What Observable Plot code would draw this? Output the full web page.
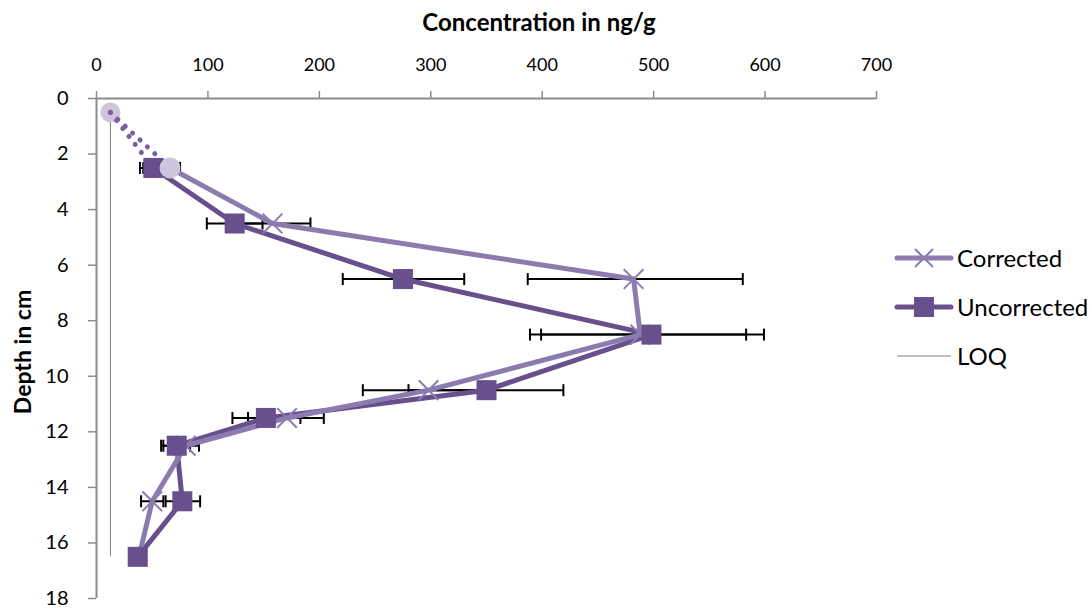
<!DOCTYPE html>
<html><head><meta charset="utf-8">
<script src="https://cdn.jsdelivr.net/npm/d3@7"></script>
<script src="https://cdn.jsdelivr.net/npm/@observablehq/plot@0.6"></script>
<style>
body{margin:0;background:#fff;font-family:Lato,"Open Sans",sans-serif;}
#wrap{position:relative;width:1092px;height:608px;overflow:hidden;background:#fff}
#chart{position:absolute;left:0;top:0}
#title{position:absolute;top:7px;left:539px;transform:translateX(-50%);font-weight:bold;font-size:24px;white-space:nowrap;color:#000}
#ylab{position:absolute;left:22px;top:352px;transform:translate(-50%,-50%) rotate(-90deg);font-weight:bold;font-size:23px;white-space:nowrap;color:#000}
#legend{position:absolute;left:893px;top:233px}
.item{display:flex;align-items:center;height:49px;font-size:24px;color:#000}
.item svg{margin-right:2px}
#chart g[aria-label="x-axis tick"], #chart g[aria-label="y-axis tick"]{stroke:#8c8c8c;stroke-width:1.5}
</style></head><body>
<div id="wrap"><div id="chart"></div><div id="title">Concentration in ng/g</div><div id="ylab">Depth in cm</div><div id="legend"></div></div>
<script>
// ---- data ----
const depth = [2.5, 4.5, 6.5, 8.5, 10.5, 11.5, 12.5, 14.5, 16.5];
const corrected = [66, 158, 482, 488, 298, 171, 80, 50, 38];
const correctedLow = [39, 124, 387, 389, 239, 136, 58, 40, null];
const correctedHigh = [75, 192, 580, 583, 357, 204, 92, 60, null];
const uncorrected = [51, 124, 275, 498, 350, 152, 72, 77, 37];
const uncorrectedLow = [42, 99, 221, 399, 280, 122, 60, 62, null];
const uncorrectedHigh = [60, 149, 330, 599, 419, 183, 84, 93, null];
const loqValue = 12.5;
const loqDepth = [0.5, 16.5];
const surfaceDepth = 0.5;
const xTicks = [0, 100, 200, 300, 400, 500, 600, 700];
const yTicks = [0, 2, 4, 6, 8, 10, 12, 14, 16, 18];
const seriesNames = ["Corrected", "Uncorrected", "LOQ"];

// ---- styles ----
const cCorr = "#8c7baf", cUnc = "#68508c", cDot = "#7b5fa0", cFaint = "#cdc5dc";

const corrRows = depth.map((d, i) => ({depth: d, v: corrected[i], lo: correctedLow[i], hi: correctedHigh[i]}));
const uncRows = depth.map((d, i) => ({depth: d, v: uncorrected[i], lo: uncorrectedLow[i], hi: uncorrectedHigh[i]}));
const errRows = [...uncRows, ...corrRows].filter(r => r.lo != null);
const capRows = errRows.flatMap(r => [{depth: r.depth, v: r.lo}, {depth: r.depth, v: r.hi}]);
const startRow = {depth: surfaceDepth, v: loqValue};
const dottedU = [startRow, uncRows[0]];
const dottedC = [startRow, corrRows[0]];

const capSymbol = {draw(ctx, size) { const r = Math.sqrt(size / Math.PI); ctx.moveTo(0, -r); ctx.lineTo(0, r); }};

const chart = Plot.plot({
  width: 1092, height: 608,
  marginLeft: 96, marginRight: 216, marginTop: 98, marginBottom: 10,
  x: {domain: [0, 700]},
  y: {domain: [0, 18], reverse: true},
  style: {fontFamily: "Lato, 'Open Sans', sans-serif", fontSize: "18px", color: "black", background: "white"},
  marks: [
    Plot.axisX({anchor: "top", ticks: xTicks, tickSize: 8, tickPadding: 20, label: null, tickFormat: d => String(d), fontSize: 18}),
    Plot.axisY({anchor: "left", ticks: yTicks, tickSize: 8, tickPadding: 20, label: null, tickFormat: d => String(d), fontSize: 20}),
    Plot.ruleY([0], {stroke: "#8c8c8c", strokeWidth: 2}),
    Plot.ruleX([0], {stroke: "#8c8c8c", strokeWidth: 2}),
    Plot.ruleX([loqValue], {y1: loqDepth[0], y2: loqDepth[1], stroke: "#808080", strokeWidth: 1}),
    Plot.ruleY(errRows, {y: "depth", x1: "lo", x2: "hi", stroke: "black", strokeWidth: 2}),
    Plot.dot(capRows, {x: "v", y: "depth", symbol: capSymbol, r: 6, stroke: "black", strokeWidth: 2, fill: "none"}),
    Plot.dot([startRow], {x: "v", y: "depth", r: 10, fill: cFaint}),
    Plot.line(dottedU, {x: "v", y: "depth", stroke: cDot, strokeWidth: 5, strokeDasharray: "0.1 10", strokeLinecap: "round"}),
    Plot.line(dottedC, {x: "v", y: "depth", stroke: cDot, strokeWidth: 5, strokeDasharray: "0.1 10", strokeLinecap: "round"}),
    Plot.line(uncRows, {x: "v", y: "depth", stroke: cUnc, strokeWidth: 5}),
    Plot.line(corrRows, {x: "v", y: "depth", stroke: cCorr, strokeWidth: 5}),
    Plot.dot(corrRows.slice(1, -1), {x: "v", y: "depth", symbol: "times", r: 9, stroke: cCorr, strokeWidth: 2}),
    Plot.dot(uncRows, {x: "v", y: "depth", symbol: "square", r: 11.3, fill: cUnc}),
    Plot.dot([corrRows[0]], {x: "v", y: "depth", r: 10.5, fill: cFaint})
  ]
});
document.getElementById("chart").append(chart);

// ---- legend ----
const legend = document.getElementById("legend");
const samples = [
  `<svg width="62" height="24"><line x1="4" y1="12" x2="58" y2="12" stroke="${cCorr}" stroke-width="5" stroke-linecap="round"/><path d="M22,3L40,21M40,3L22,21" stroke="${cCorr}" stroke-width="2"/></svg>`,
  `<svg width="62" height="24"><line x1="4" y1="12" x2="58" y2="12" stroke="${cUnc}" stroke-width="5" stroke-linecap="round"/><rect x="21" y="2" width="20" height="20" fill="${cUnc}"/></svg>`,
  `<svg width="62" height="24"><line x1="4" y1="12" x2="58" y2="12" stroke="#808080" stroke-width="1"/></svg>`
];
seriesNames.forEach((n, i) => {
  const d = document.createElement("div");
  d.className = "item";
  d.innerHTML = samples[i] + `<span>${n}</span>`;
  legend.append(d);
});
</script>
</body></html>
